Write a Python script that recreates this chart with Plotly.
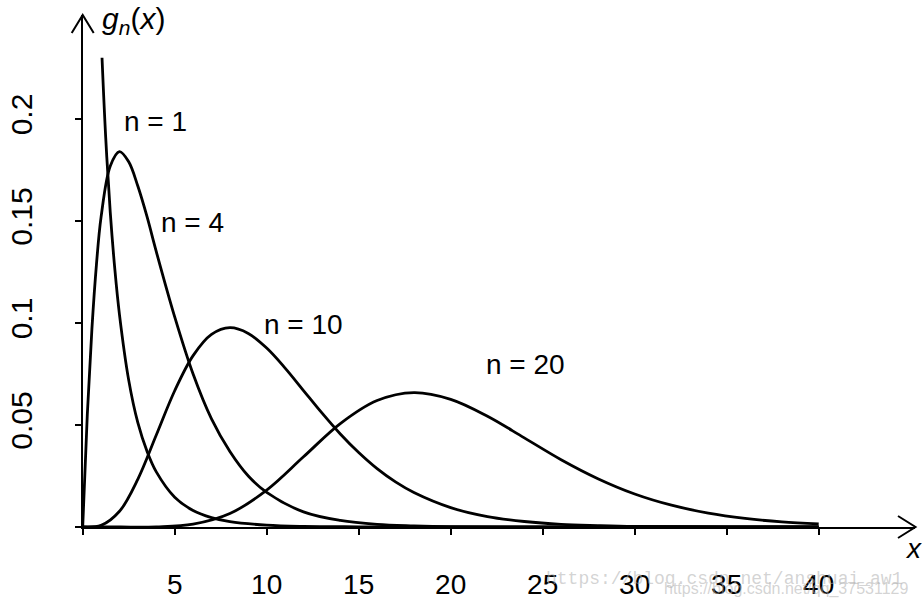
import plotly.graph_objects as go

# ---- data ----
n1_x = [1.05, 1.25, 1.5, 1.75, 2, 2.5, 3, 3.5, 4, 5, 6, 7, 8, 10, 12, 15, 20, 30, 40]
n1_y = [0.230, 0.191, 0.154, 0.126, 0.104, 0.072, 0.051, 0.037, 0.027, 0.0146, 0.0081,
        0.0046, 0.0026, 0.0009, 0.0003, 0.0001, 0.0, 0.0, 0.0]

n4_x = [0, 0.25, 0.5, 0.75, 1, 1.5, 2, 2.5, 3, 3.5, 4, 5, 6, 7, 8, 9, 10, 12, 14, 16,
        18, 20, 25, 30, 40]
n4_y = [0, 0.055, 0.097, 0.129, 0.152, 0.177, 0.184, 0.179, 0.167, 0.152, 0.135, 0.103,
        0.075, 0.053, 0.037, 0.025, 0.017, 0.0074, 0.0032, 0.0013, 0.0006, 0.0002, 0.0,
        0.0, 0.0]

n10_x = [0, 1, 2, 3, 4, 5, 6, 7, 8, 9, 10, 11, 12, 13, 14, 15, 16, 17, 18, 20, 22, 24,
         26, 28, 30, 35, 40]
n10_y = [0, 0.0008, 0.0077, 0.0235, 0.0451, 0.0668, 0.0840, 0.0944, 0.0977, 0.0949,
         0.0877, 0.0779, 0.0669, 0.0559, 0.0456, 0.0365, 0.0286, 0.0221, 0.0169, 0.0095,
         0.0051, 0.0027, 0.0013, 0.0007, 0.0003, 0.0001, 0.0]

n20_x = [0, 2, 4, 6, 8, 10, 12, 14, 16, 18, 20, 22, 24, 26, 28, 30, 32, 34, 36, 38, 40]
n20_y = [0, 0, 0.0001, 0.0014, 0.0066, 0.0181, 0.0344, 0.0507, 0.0620, 0.0659, 0.0626,
         0.0543, 0.0437, 0.0330, 0.0237, 0.0162, 0.0107, 0.0068, 0.0042, 0.0025, 0.0015]

curve_labels = ["n = 1", "n = 4", "n = 10", "n = 20"]
label_x = [3.93, 5.99, 12.0, 24.04]
label_y = [0.199, 0.1495, 0.0995, 0.0795]

x_ticks = [0, 5, 10, 15, 20, 25, 30, 35, 40]
x_ticktext = ["", "5", "10", "15", "20", "25", "30", "35", "40"]
y_ticks = [0, 0.05, 0.1, 0.15, 0.2]
y_ticktext = ["", "0.05", "0.1", "0.15", "0.2"]

W, H = 922, 608
FONT = "Liberation Sans, Arial, sans-serif"


def px(x, y):
    return x / W, 1 - y / H


fig = go.Figure()
for xs, ys in [(n1_x, n1_y), (n4_x, n4_y), (n10_x, n10_y), (n20_x, n20_y)]:
    fig.add_trace(go.Scatter(x=xs, y=ys, mode="lines",
                             line=dict(color="black", width=2.8, shape="spline", smoothing=1.0),
                             showlegend=False, hoverinfo="skip"))

for t, lx, ly in zip(curve_labels, label_x, label_y):
    fig.add_annotation(x=lx, y=ly, text=t, showarrow=False, xanchor="center", yanchor="middle",
                       font=dict(family=FONT, size=28, color="black"))

x0p, _ = px(82.7, 0)
x1p, _ = px(915, 0)
_, y0p = px(0, 527)
_, y1p = px(0, 15)

fig.update_layout(
    width=W, height=H,
    margin=dict(l=0, r=0, t=0, b=0),
    paper_bgcolor="white", plot_bgcolor="white",
    xaxis=dict(domain=[x0p, x1p], range=[0, (915 - 82.7) / 18.4],
               showgrid=False, zeroline=False, showline=True, linecolor="black", linewidth=2,
               ticks="outside", ticklen=6, tickwidth=2, tickcolor="black",
               tickvals=x_ticks, ticktext=x_ticktext, ticklabelstandoff=25,
               tickfont=dict(family=FONT, size=28, color="black")),
    yaxis=dict(domain=[y0p, y1p], range=[0, (527 - 15) / 2040],
               showgrid=False, zeroline=False, showline=True, linecolor="black", linewidth=2,
               ticks="outside", ticklen=6, tickwidth=2, tickcolor="black",
               tickvals=y_ticks, ticktext=y_ticktext, tickangle=-90, ticklabelstandoff=31,
               tickfont=dict(family=FONT, size=30, color="black")),
)

# arrow heads
ax1, ay1 = px(71.7, 33)
ax2, ay2 = px(82.7, 15)
ax3, ay3 = px(93.7, 33)
fig.add_shape(type="path", xref="paper", yref="paper",
              path=f"M {ax1},{ay1} L {ax2},{ay2} L {ax3},{ay3}",
              line=dict(color="black", width=2))
bx1, by1 = px(898, 516)
bx2, by2 = px(915.5, 527)
bx3, by3 = px(898, 538)
fig.add_shape(type="path", xref="paper", yref="paper",
              path=f"M {bx1},{by1} L {bx2},{by2} L {bx3},{by3}",
              line=dict(color="black", width=2))

# axis titles
gx, gy = px(133, 20)
fig.add_annotation(xref="paper", yref="paper", x=gx, y=gy, xanchor="center", yanchor="middle",
                   text="<i>g</i><sub><i>n</i></sub>(<i>x</i>)", showarrow=False,
                   font=dict(family=FONT, size=30, color="black"))
tx, ty = px(913, 548)
fig.add_annotation(xref="paper", yref="paper", x=tx, y=ty, xanchor="center", yanchor="middle",
                   text="<i>x</i>", showarrow=False,
                   font=dict(family=FONT, size=28, color="black"))

# watermark
w1x, w1y = px(544, 579)
fig.add_annotation(xref="paper", yref="paper", x=w1x, y=w1y, xanchor="left", yanchor="middle",
                   text="https://blog.csdn.net/anshuai_aw1", showarrow=False,
                   font=dict(family="Liberation Mono, monospace", size=18,
                             color="rgba(175,175,175,0.55)"))
w2x, w2y = px(662, 589)
fig.add_annotation(xref="paper", yref="paper", x=w2x, y=w2y, xanchor="left", yanchor="middle",
                   text="https://blog.csdn.net/qq_37531129", showarrow=False,
                   font=dict(family="Liberation Sans Narrow, Liberation Sans, sans-serif", size=16,
                             color="rgba(175,175,175,0.55)"))

fig.write_html("out.html")
